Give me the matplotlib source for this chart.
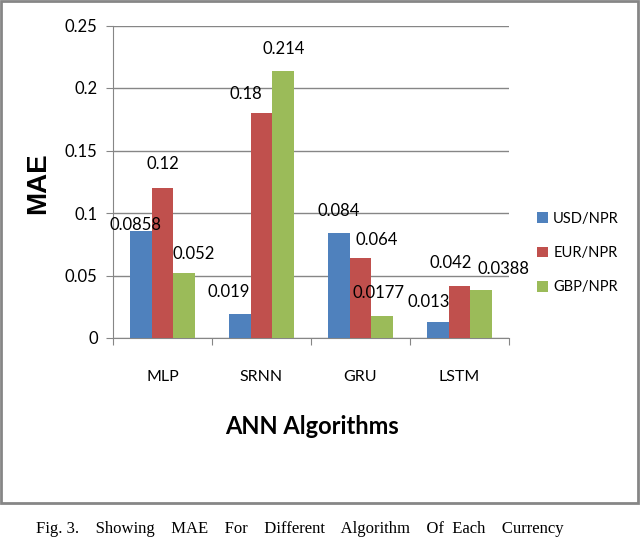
import numpy as np
import matplotlib
matplotlib.use("Agg")
import matplotlib.pyplot as plt
from matplotlib.patches import Rectangle

plt.rcParams['font.family'] = ['Lato', 'DejaVu Sans']

algorithms = ['MLP', 'SRNN', 'GRU', 'LSTM']
series = ['USD/NPR', 'EUR/NPR', 'GBP/NPR']
usd = [0.0858, 0.019, 0.084, 0.013]
eur = [0.12, 0.18, 0.064, 0.042]
gbp = [0.052, 0.214, 0.0177, 0.0388]
value_labels = [['0.0858', '0.019', '0.084', '0.013'],
                ['0.12', '0.18', '0.064', '0.042'],
                ['0.052', '0.214', '0.0177', '0.0388']]
yticks = [0, 0.05, 0.1, 0.15, 0.2, 0.25]
ytick_labels = ['0', '0.05', '0.1', '0.15', '0.2', '0.25']

colors = ['#4F81BD', '#C0504D', '#9BBB59']
grey = '#868686'
# label offsets from bar top in pixels (dx, dy)
offsets = [[(-5, 6), (-11, 22), (0, 22), (-9, 20)],
           [(0, 24), (-16, 19), (16, 18), (-9, 22)],
           [(9, 19), (0, 22), (-4, 23), (22, 21)]]

fig = plt.figure(figsize=(6.4, 5.38), dpi=100)
W, H = 640, 538

# outer frame
fig.patches.append(Rectangle((1 / W, 1 - 503 / H), 637 / W, 502 / H,
                             transform=fig.transFigure, fill=False,
                             edgecolor=grey, linewidth=2))

ax = fig.add_axes([113 / W, 1 - 338 / H, 396 / W, 312.5 / H])
x = np.arange(len(algorithms))
bw = 0.222
for i, vals in enumerate([usd, eur, gbp]):
    pos = x + (i - 1) * bw
    ax.bar(pos, vals, bw, color=colors[i], label=series[i], zorder=3)
    for j, v in enumerate(vals):
        dx, dy = offsets[i][j]
        ax.annotate(value_labels[i][j], (pos[j], v), xytext=(dx, dy),
                    textcoords='offset pixels', ha='center', va='center',
                    fontsize=12, zorder=4)

ax.set_xlim(-0.5, 3.5)
ax.set_ylim(0, 0.25)
ax.set_yticks(yticks)
ax.set_yticklabels(ytick_labels, fontsize=12)
ax.yaxis.grid(True, color=grey, linewidth=1)
ax.set_axisbelow(True)
ax.set_xticks(np.arange(-0.5, 4, 1))
ax.set_xticklabels([])
ax.tick_params(axis='x', length=5, color=grey, direction='out')
ax.tick_params(axis='y', length=5, color=grey, direction='out', pad=6)
for s in ['top', 'right']:
    ax.spines[s].set_visible(False)
for s in ['left', 'bottom']:
    ax.spines[s].set_color(grey)
for j, name in enumerate(algorithms):
    ax.text(j, -0.031, name, ha='center', va='center', fontsize=11.5)

fig.text(38 / W, 1 - 183 / H, 'MAE', rotation=90, ha='center', va='center',
         fontsize=20, fontweight='bold', family=['Liberation Sans', 'DejaVu Sans'])
fig.text(312 / W, 1 - 427 / H, 'ANN Algorithms', ha='center', va='center',
         fontsize=17, fontweight='bold')

handles, labels = ax.get_legend_handles_labels()
fig.legend(handles, labels, loc='center left', bbox_to_anchor=(524 / W, 1 - 253 / H),
           frameon=False, fontsize=10.5, handlelength=0.75, handleheight=0.75,
           handletextpad=0.35, labelspacing=1.4)

fig.text(36 / W, 1 - 521 / H,
         'Fig. 3.    Showing    MAE    For    Different    Algorithm    Of  Each    Currency',
         ha='left', va='top', fontsize=12, family=['Liberation Serif', 'DejaVu Serif'])

fig.savefig('out.png', dpi=100)
